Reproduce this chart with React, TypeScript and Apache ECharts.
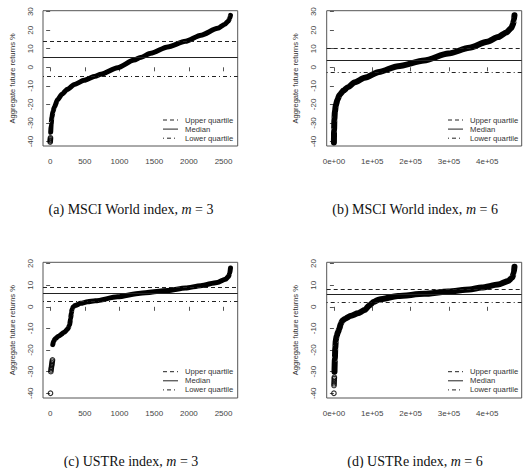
import React, { useEffect, useRef } from "react";
import * as echarts from "echarts";

// Sorted aggregate future returns (%) plotted against their rank.
// MSCI World index, m = 3 (2600 windows)
const MSCI3_N = 2600;
const MSCI3_RANK = [8, 15, 25, 40, 60, 107, 170, 250, 350, 490, 650, 730, 972, 1212, 1300, 1453, 1694, 1950, 2175, 2415, 2520, 2570, 2590, 2600];
const MSCI3_RET = [-35, -30.5, -27, -24, -21.5, -17.5, -14.5, -11.8, -9.2, -7.0, -4.8, -3.7, -0.2, 3.9, 5.3, 7.6, 11.0, 14.0, 17.3, 21.0, 23.2, 25.0, 26.5, 28];
const MSCI3_TAIL_RANK = [1, 2, 3, 4, 5];
const MSCI3_TAIL_RET = [-40.3, -39.7, -39.2, -38.6, -38.0];
const MSCI3_QUARTILES = [14.0, 5.3, -4.8]; // upper, median, lower

// MSCI World index, m = 6
const MSCI6_N = 471000;
const MSCI6_RANK = [1, 400, 1200, 2500, 5000, 9000, 15000, 25000, 36500, 55000, 80000, 117750, 167000, 235500, 298000, 353250, 400000, 428000, 450000, 462000, 467000, 469500, 471000];
const MSCI6_RET = [-40.5, -34, -28, -24, -20.5, -17.5, -14.8, -12.5, -10.7, -8.0, -5.6, -2.5, 0.6, 3.7, 7.4, 10.5, 13.8, 16.3, 18.8, 21, 23, 25.5, 28];
const MSCI6_TAIL_RANK: number[] = [];
const MSCI6_TAIL_RET: number[] = [];
const MSCI6_QUARTILES = [10.5, 3.7, -2.5];

// USTRe index, m = 3
const USTRE3_N = 2600;
const USTRE3_RANK = [38, 50, 80, 120, 200, 255, 280, 295, 305, 315, 330, 360, 440, 540, 650, 970, 1300, 1700, 1950, 2170, 2410, 2530, 2570, 2590, 2600];
const USTRE3_RET = [-17.5, -15.8, -14.6, -13.6, -11.9, -10.2, -8.5, -5.5, -3.0, -1.2, -0.1, 0.6, 1.6, 2.3, 2.8, 4.6, 6.3, 7.6, 8.7, 9.8, 11.3, 12.8, 14, 15.5, 18];
const USTRE3_TAIL_RANK = [5, 10, 13, 16, 19, 22, 25, 28, 31, 34];
const USTRE3_TAIL_RET = [-40, -30.0, -29.2, -28.5, -27.9, -27.2, -26.6, -25.9, -25.2, -24.6];
const USTRE3_QUARTILES = [8.9, 6.3, 2.8];

// USTRe index, m = 6
const USTRE6_N = 471000;
const USTRE6_RANK = [1500, 2500, 3500, 5000, 7000, 10400, 14000, 18000, 22000, 28000, 45000, 62600, 80000, 93000, 104000, 117750, 167000, 235500, 298000, 353250, 385000, 428000, 455000, 465000, 469000, 471000];
const USTRE6_RET = [-30, -24, -19, -15.5, -13.5, -11.8, -10.2, -7.8, -6.4, -5.6, -4.1, -3.0, -1.5, 0.7, 2.3, 3.4, 5.0, 6.0, 7.1, 8.0, 8.9, 10.3, 12.0, 13.5, 15.5, 18.5];
const USTRE6_TAIL_RANK = [1, 200, 400, 600, 800, 1000, 1200];
const USTRE6_TAIL_RET = [-40, -36.4, -35.6, -34.8, -34.0, -33.2, -32.6];
const USTRE6_QUARTILES = [8.0, 6.0, 2.3];

// Tick positions
const COUNT_TICKS = [0, 500, 1000, 1500, 2000, 2500];
const PATH_TICKS = [0, 100000, 200000, 300000, 400000];
const RET_TICKS_WIDE = [-40, -30, -20, -10, 0, 10, 20, 30];
const RET_TICKS_NARROW = [-40, -30, -20, -10, 0, 10, 20];

const LEGEND_LABELS = ["Upper quartile", "Median", "Lower quartile"];
const Y_TITLE = "Aggregate future returns %";

const SANS = "'Liberation Sans', Arial, sans-serif";
const SERIF = "'Liberation Serif', 'Times New Roman', serif";
const DASHES: (number[] | "solid")[] = [[4, 3], "solid", [1, 3, 4, 3]];

type Panel = {
  n: number;
  rank: number[];
  ret: number[];
  tailRank: number[];
  tailRet: number[];
  quartiles: number[];
  xTicks: number[];
  sci: boolean;
  yTicks: number[];
  yMin: number;
  yMax: number;
  left: number;
  top: number;
  width: number;
  height: number;
  lineWidth: number;
  tag: string;
  title: string;
  m: string;
  captionX: number;
  captionY: number;
  legendX: number;
  legendY: number;
};

const PANELS: Panel[] = [
  {
    n: MSCI3_N, rank: MSCI3_RANK, ret: MSCI3_RET, tailRank: MSCI3_TAIL_RANK, tailRet: MSCI3_TAIL_RET,
    quartiles: MSCI3_QUARTILES, xTicks: COUNT_TICKS, sci: false, yTicks: RET_TICKS_WIDE, yMin: -42.4, yMax: 30.5,
    left: 43, top: 10.7, width: 194.7, height: 135.3, lineWidth: 5,
    tag: "(a)", title: "MSCI World index,", m: "3", captionX: 131, captionY: 209, legendX: 163, legendY: 120,
  },
  {
    n: MSCI6_N, rank: MSCI6_RANK, ret: MSCI6_RET, tailRank: MSCI6_TAIL_RANK, tailRet: MSCI6_TAIL_RET,
    quartiles: MSCI6_QUARTILES, xTicks: PATH_TICKS, sci: true, yTicks: RET_TICKS_WIDE, yMin: -42.4, yMax: 30.5,
    left: 326.7, top: 10.7, width: 195, height: 135.3, lineWidth: 6,
    tag: "(b)", title: "MSCI World index,", m: "6", captionX: 415, captionY: 209, legendX: 448, legendY: 120,
  },
  {
    n: USTRE3_N, rank: USTRE3_RANK, ret: USTRE3_RET, tailRank: USTRE3_TAIL_RANK, tailRet: USTRE3_TAIL_RET,
    quartiles: USTRE3_QUARTILES, xTicks: COUNT_TICKS, sci: false, yTicks: RET_TICKS_NARROW, yMin: -42.2, yMax: 20.6,
    left: 43, top: 262.3, width: 194.7, height: 135.7, lineWidth: 5,
    tag: "(c)", title: "USTRe index,", m: "3", captionX: 131, captionY: 461.7, legendX: 163, legendY: 371.7,
  },
  {
    n: USTRE6_N, rank: USTRE6_RANK, ret: USTRE6_RET, tailRank: USTRE6_TAIL_RANK, tailRet: USTRE6_TAIL_RET,
    quartiles: USTRE6_QUARTILES, xTicks: PATH_TICKS, sci: true, yTicks: RET_TICKS_NARROW, yMin: -42.2, yMax: 20.6,
    left: 326.7, top: 262.3, width: 195, height: 135.7, lineWidth: 6,
    tag: "(d)", title: "USTRe index,", m: "6", captionX: 415, captionY: 461.7, legendX: 448, legendY: 371.7,
  },
];

function sciLabel(v: number): string {
  if (v === 0) return "0e+00";
  return `${v / 100000}e+05`;
}

function buildOption() {
  const grid: any[] = [];
  const xAxis: any[] = [];
  const yAxis: any[] = [];
  const series: any[] = [];
  const graphic: any[] = [];

  PANELS.forEach((p, k) => {
    grid.push({
      left: p.left, top: p.top, width: p.width, height: p.height,
      show: true, borderColor: "#555", borderWidth: 1, backgroundColor: "transparent",
    });
    const pad = 0.04 * (p.n - 1);
    xAxis.push({
      type: "value", gridIndex: k, min: 1 - pad, max: p.n + pad,
      axisLine: { show: false },
      splitLine: { show: false },
      axisTick: { show: true, customValues: p.xTicks, length: 4, lineStyle: { color: "#555", width: 1 } },
      axisLabel: {
        show: true, customValues: p.xTicks, margin: 11, fontSize: 8, color: "#444", fontFamily: SANS,
        formatter: (v: number) => (p.sci ? sciLabel(v) : String(v)),
      },
    });
    yAxis.push({
      type: "value", gridIndex: k, min: p.yMin, max: p.yMax,
      name: Y_TITLE, nameLocation: "middle", nameGap: 27, nameRotate: 90,
      nameTextStyle: { fontSize: 7.5, color: "#333", fontFamily: SANS },
      axisLine: { show: false },
      splitLine: { show: false },
      axisTick: { show: true, customValues: p.yTicks, length: 4, lineStyle: { color: "#555", width: 1 } },
      axisLabel: {
        show: true, customValues: p.yTicks, rotate: 90, margin: 9, fontSize: 8, color: "#444", fontFamily: SANS,
      },
    });

    series.push({
      type: "line", xAxisIndex: k, yAxisIndex: k,
      data: p.rank.map((r, i) => [r, p.ret[i]]),
      showSymbol: false, symbol: "none", smooth: 0.25, smoothMonotone: "x",
      lineStyle: { color: "#000", width: p.lineWidth, cap: "round", join: "round" },
      silent: true, z: 3,
      markLine: {
        silent: true, symbol: ["none", "none"], label: { show: false },
        data: p.quartiles.map((q, i) => ({
          yAxis: q,
          lineStyle: { color: "#222", width: 1, type: DASHES[i] },
        })),
      },
    });
    if (p.tailRank.length) {
      series.push({
        type: "scatter", xAxisIndex: k, yAxisIndex: k,
        data: p.tailRank.map((r, i) => [r, p.tailRet[i]]),
        symbol: "circle", symbolSize: 4.5, silent: true, z: 3,
        itemStyle: { color: "rgba(255,255,255,0)", borderColor: "#000", borderWidth: 1.2 },
      });
    }

    // legend (no frame)
    LEGEND_LABELS.forEach((lab, i) => {
      const y = p.legendY + i * 9.1;
      const d = DASHES[i];
      graphic.push({
        type: "line", silent: true,
        shape: { x1: p.legendX, y1: y, x2: p.legendX + 15, y2: y },
        style: { stroke: "#222", lineWidth: 1, lineDash: d === "solid" ? null : d },
      });
      graphic.push({
        type: "text", silent: true, x: p.legendX + 22, y,
        style: {
          text: lab, fontSize: 7.7, fontFamily: SANS, fill: "#333",
          align: "left", verticalAlign: "middle", textAlign: "left", textVerticalAlign: "middle",
        },
      });
    });

    // caption under the panel
    graphic.push({
      type: "text", silent: true, x: p.captionX, y: p.captionY,
      style: {
        text: `${p.tag} ${p.title} {i|m} = ${p.m}`,
        fontSize: 14, fontFamily: SERIF, fill: "#111",
        align: "center", verticalAlign: "middle", textAlign: "center", textVerticalAlign: "middle",
        rich: { i: { fontStyle: "italic", fontSize: 14, fontFamily: SERIF, fill: "#111" } },
      },
    });
  });

  return {
    animation: false,
    backgroundColor: "#fff",
    grid, xAxis, yAxis, series, graphic,
  };
}

export default function App() {
  const ref = useRef<HTMLDivElement>(null);
  useEffect(() => {
    const chart = echarts.init(ref.current!, null, { renderer: "svg" });
    chart.setOption(buildOption() as any);
    return () => chart.dispose();
  }, []);
  return (
    <div
      ref={ref}
      style={{ position: "fixed", left: 0, top: 0, width: 528, height: 468, background: "#fff" }}
    />
  );
}
